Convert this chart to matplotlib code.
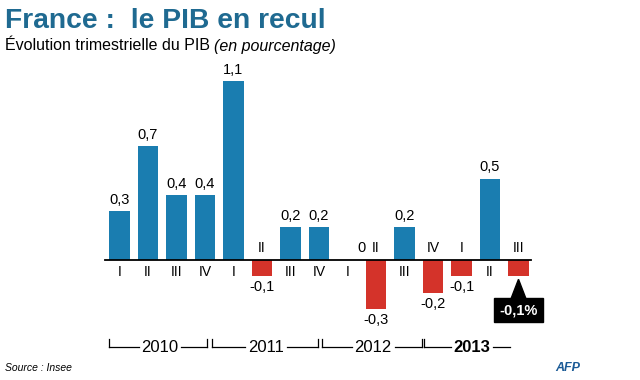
import numpy as np
import matplotlib
matplotlib.use("Agg")
import matplotlib.pyplot as plt

# données : évolution trimestrielle du PIB (%)
quarters = ["I", "II", "III", "IV", "I", "II", "III", "IV", "I", "II", "III", "IV", "I", "II", "III"]
values = [0.3, 0.7, 0.4, 0.4, 1.1, -0.1, 0.2, 0.2, 0.0, -0.3, 0.2, -0.2, -0.1, 0.5, -0.1]
years = ["2010", "2011", "2012", "2013"]
year_spans = [(-0.37, 3.07), (3.25, 6.96), (7.1, 10.6), (10.7, 13.7)]
year_text_x = [1.42, 5.14, 8.9, 12.37]

BLUE = "#1a7db0"
RED = "#d4332a"
TITLE = "#1f6a91"

plt.rcParams["font.family"] = ["Liberation Sans", "DejaVu Sans"]

W, H = 640, 380
fig = plt.figure(figsize=(W / 100, H / 100), dpi=100)
fig.patch.set_facecolor("white")

# axes couvrant toute la figure, échelle choisie pour placer les barres
px_x, px_y = 28.5, 163.0
x0, base = 119.5, 260.0
ax = fig.add_axes([0, 0, 1, 1])
ax.set_xlim(-x0 / px_x, (W - x0) / px_x)
ax.set_ylim(-(H - base) / px_y, base / px_y)
ax.axis("off")

x = np.arange(len(values))
colors = [BLUE if v >= 0 else RED for v in values]
ax.bar(x, values, width=0.72, color=colors, zorder=2)
ax.plot([-0.5, 14.45], [0, 0], color="black", lw=1.3, zorder=3)

dy = 12 / px_y
for i, (q, v) in enumerate(zip(quarters, values)):
    if v < 0:
        ax.text(i, dy, q, ha="center", va="center", fontsize=10)
    else:
        ax.text(i, -dy, q, ha="center", va="center", fontsize=10)
    lab = ("%g" % v).replace(".", ",")
    if i == len(values) - 1:
        continue
    if v > 0:
        ax.annotate(lab, (i, v), xytext=(0, 3), textcoords="offset points",
                    ha="center", va="bottom", fontsize=10.5)
    elif v < 0:
        ax.annotate(lab, (i, v), xytext=(0, -3), textcoords="offset points",
                    ha="center", va="top", fontsize=10.5)
    else:
        ax.text(i + 0.5, dy, "0", ha="center", va="center", fontsize=10.5)

# dernière valeur mise en avant
last = len(values) - 1
box_y = values[last] - 34 / px_y
ax.text(last, box_y, ("%g" % values[last]).replace(".", ",") + "%",
        ha="center", va="center", fontsize=10.5, fontweight="bold", color="white",
        bbox=dict(boxstyle="square,pad=0.35", fc="black", ec="black"), zorder=4)
tip = values[last] - 3 / px_y
bot = box_y + 11 / px_y
ax.fill([last - 0.27, last + 0.27, last], [bot, bot, tip], color="black", zorder=4)

# accolades des années
yy = -87 / px_y
tick = 8 / px_y
for k, (yr, (a, b), tx) in enumerate(zip(years, year_spans, year_text_x)):
    ax.plot([a, a], [yy + tick, yy], color="black", lw=0.9)
    ax.plot([a, tx - 0.75], [yy, yy], color="black", lw=0.9)
    ax.plot([tx + 0.75, b], [yy, yy], color="black", lw=0.9)
    if k < len(years) - 1:
        ax.plot([b, b], [yy, yy + tick], color="black", lw=0.9)
    ax.text(tx, yy, yr, ha="center", va="center", fontsize=12,
            fontweight="bold" if k == len(years) - 1 else "normal")

fig.text(5 / W, 1 - 21 / H, "France :  le PIB en recul", fontsize=20.3,
         fontweight="bold", color=TITLE, ha="left", va="center")
sub = fig.text(5 / W, 1 - 46 / H, "Évolution trimestrielle du PIB", fontsize=11.5,
               ha="left", va="center")
r = fig.canvas.get_renderer()
end = sub.get_window_extent(r).x1
fig.text((end + 4) / W, 1 - 46 / H, "(en pourcentage)", fontsize=11.5, style="italic",
         ha="left", va="center")
fig.text(5 / W, 1 - 368 / H, "Source : Insee", fontsize=7.5, style="italic",
         ha="left", va="center")
fig.text(568 / W, 1 - 368 / H, "AFP", fontsize=9, style="italic", fontweight="bold",
         color="#1a5a96", ha="center", va="center")

fig.savefig("out.png", dpi=100, facecolor="white")
